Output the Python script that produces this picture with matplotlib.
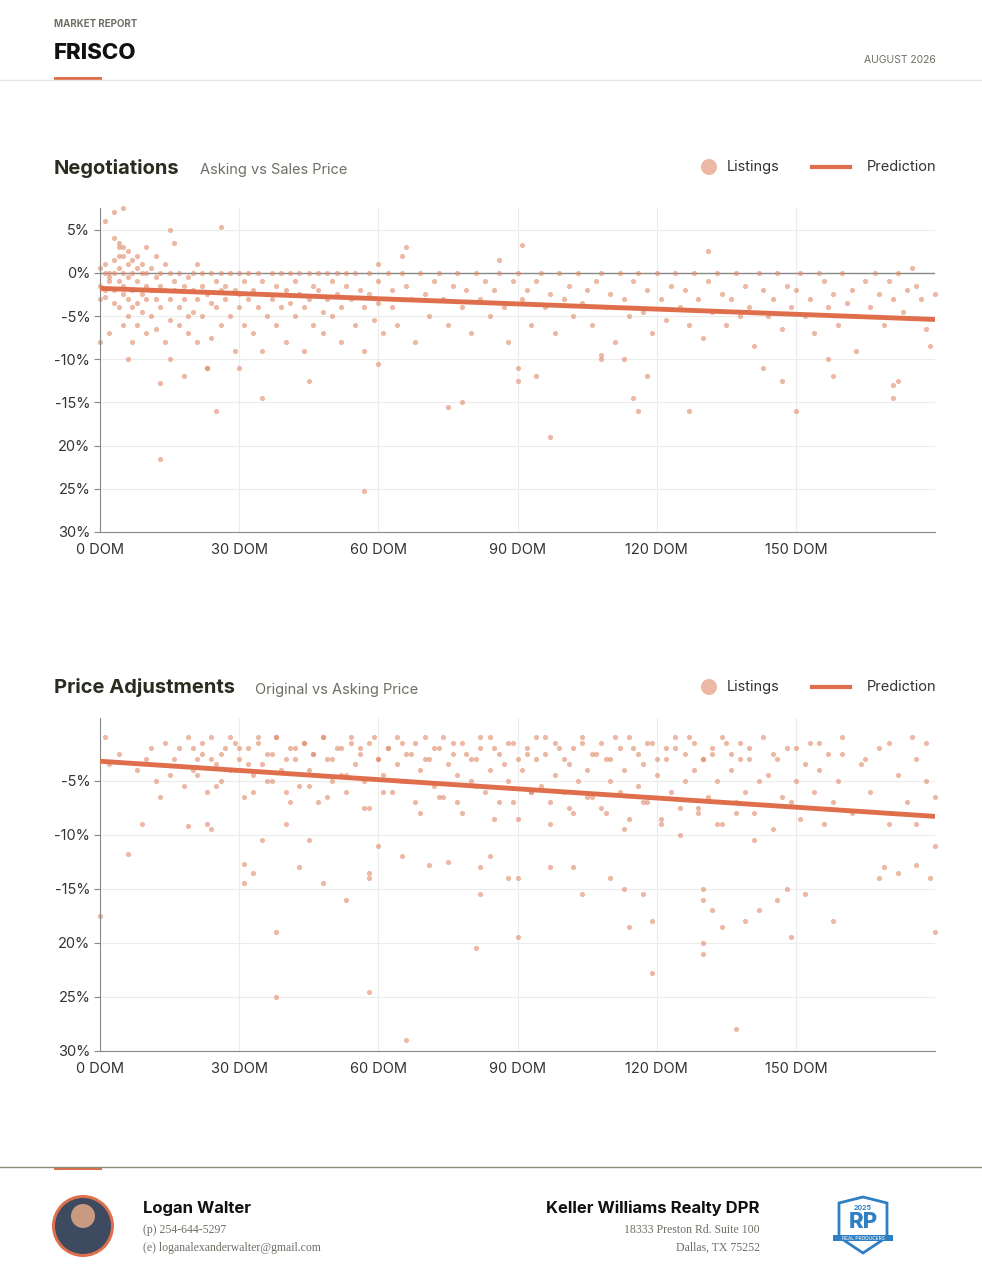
import matplotlib
matplotlib.use("Agg")
import matplotlib.pyplot as plt
from matplotlib.patches import Ellipse, Polygon, Rectangle
from matplotlib.lines import Line2D

# ---------------- data (DOM, % difference) ----------------
neg_points = [
 (0,0.5),(0,-1.5),(0,-3),(0,-8),(1,-2),(1,0),(1,1),(1,-2.8),(2,-1),(2,-0.5),(2,0),(2,-7),(3,4),(3,1.5),(3,-2),(3,-3.5),(3,0),
 (4,2),(4,3.5),(4,-1),(4,-4),(4,0.5),(5,3),(5,2),(5,-2.5),(5,-1.5),(5,0),(5,-6),(6,2.5),(6,1),(6,-0.5),(6,-3),(6,-5),(6,-10),
 (7,1.5),(7,0),(7,-2),(7,-4),(7,-8),(8,2),(8,-1),(8,-3.5),(8,0.5),(8,-6),(9,1),(9,-2.5),(9,0),(9,-4.5),(10,3),(10,0),(10,-1.5),
 (10,-3),(10,-7),(11,0.5),(11,-2),(11,-5),(12,2),(12,-0.5),(12,-3),(12,-6.5),(13,0),(13,-1.5),(13,-4),(13,-12.8),(14,1),(14,-2),
 (14,-8),(15,0),(15,-3),(15,-5.5),(15,-10),(16,-1),(16,-2),(16,3.5),(17,0),(17,-4),(17,-6),(18,-1.5),(18,-3),(18,-12),(19,-0.5),
 (19,-5),(19,-7),(20,0),(20,-2),(20,-4.5),(21,1),(21,-3),(21,-8),(22,0),(22,-1.5),(22,-5),(23,-2.5),(23,-11),(24,0),(24,-3.5),
 (24,-7.5),(25,-1),(25,-4),(26,0),(26,-2),(26,-6),(27,-1.5),(27,-3),(28,0),(28,-5),(29,-2),(29,-9),(30,0),(30,-2.5),(30,-4),
 (31,-1),(31,-6),(32,0),(32,-3),(33,-2),(33,-7),(34,0),(34,-4),(35,-1),(35,-9),(36,-2.5),(36,-5),(37,0),(37,-3),(38,-1.5),
 (38,-6),(39,0),(39,-4),(40,-2),(40,-8),(41,0),(41,-3.5),(42,-1),(42,-5),(43,0),(43,-2.5),(44,-4),(44,-9),(45,0),(45,-3),
 (46,-1.5),(46,-6),(47,0),(47,-2),(48,-4.5),(48,-7),(49,0),(49,-3),(50,-1),(50,-5),(51,0),(51,-2.5),(52,-4),(52,-8),(53,0),
 (53,-1.5),(54,-3),(55,-6),(55,0),(56,-2),(57,-4),(57,-9),(58,0),(58,-2.5),(59,-5.5),(60,1),(60,-1),(60,-3.5),(61,-7),(62,0),
 (63,-2),(63,-4),(64,-6),(65,0),(66,-1.5),(67,-3),(68,-8),(69,0),(70,-2.5),(71,-5),(72,-1),(73,0),(74,-3),(75,-6),(76,-1.5),
 (77,0),(78,-4),(79,-2),(80,-7),(81,0),(82,-3),(83,-1),(84,-5),(85,-2),(86,0),(87,-4),(88,-8),(89,-1),(90,0),(91,-3),(92,-2),
 (93,-6),(94,-1),(95,0),(96,-4),(97,-2.5),(98,-7),(99,0),(100,-3),(101,-1.5),(102,-5),(103,0),(104,-3.5),(105,-2),(106,-6),
 (107,-1),(108,0),(109,-4),(110,-2.5),(111,-8),(112,0),(113,-3),(114,-5),(115,-1),(116,0),(117,-4.5),(118,-2),(119,-7),(120,0),
 (121,-3),(122,-5.5),(123,-1.5),(124,0),(125,-4),(126,-2),(127,-6),(128,0),(129,-3),(130,-7.5),(131,-1),(132,-4.5),(133,0),
 (134,-2.5),(135,-6),(136,-3),(137,0),(138,-5),(139,-1.5),(140,-4),(141,-8.5),(142,0),(143,-2),(144,-5),(145,-3),(146,0),
 (147,-6.5),(148,-1.5),(149,-4),(150,-2),(151,0),(152,-5),(153,-3),(154,-7),(155,0),(156,-1),(157,-4),(158,-2.5),(159,-6),
 (160,0),(161,-3.5),(162,-2),(163,-5),(165,-1),(166,-4),(167,0),(168,-2.5),(169,-6),(170,-1),(171,-3),(172,0),(173,-4.5),
 (174,-2),(175,0.5),(176,-1.5),(177,-3),(178,-6.5),(179,-8.5),(180,-2.5),
 (1,6),(3,7),(5,7.5),(4,3),(15,5),(26,5.3),(13,-21.5),(25,-16),(57,-25.2),(60,-10.5),(97,-19),(75,-15.5),(78,-15),(90,-11),
 (90,-12.5),(94,-12),(115,-14.5),(116,-16),(127,-16),(150,-16),(171,-13),(171,-14.5),(172,-12.5),(147,-12.5),(143,-11),
 (163,-9),(157,-10),(158,-12),(108,-10),(108,-9.5),(113,-10),(118,-12),(30,-11),(23,-11),(35,-14.5),(45,-12.5),(65,2),
 (66,3),(91,3.2),(86,1.5),(131,2.5),
]
neg_trend_dom = [0, 180]
neg_trend_pct = [-1.8, -5.4]

adj_points = [
 (1,-1),(2,-3.5),(4,-2.5),(8,-4),(10,-3),(11,-2),(12,-5),(14,-1.5),(15,-4.5),(16,-3),(17,-2),(18,-5.5),(19,-1),(20,-4),
 (21,-3),(22,-2.5),(23,-6),(24,-1),(25,-3.5),(26,-5),(27,-2),(28,-4),(29,-1.5),(30,-3),(31,-6.5),(32,-2),(33,-4.5),(34,-1),
 (35,-3.5),(36,-5),(37,-2.5),(38,-1),(39,-4),(40,-6),(41,-2),(42,-3),(43,-5.5),(44,-1.5),(45,-4),(46,-2.5),(47,-7),(48,-1),
 (49,-3),(50,-5),(51,-2),(52,-4.5),(53,-6),(54,-1.5),(55,-3.5),(56,-2),(57,-5),(58,-7.5),(59,-1),(60,-3),(61,-4.5),(62,-2),
 (63,-6),(64,-3.5),(65,-1.5),(66,-5),(67,-2.5),(68,-7),(69,-4),(70,-1),(71,-3),(72,-5.5),(73,-2),(74,-6.5),(75,-3.5),
 (76,-1.5),(77,-4.5),(78,-8),(79,-2.5),(80,-5),(81,-3),(82,-1),(83,-6),(84,-4),(85,-2),(86,-7),(87,-3.5),(88,-5),(89,-1.5),
 (90,-8.5),(91,-4),(92,-2.5),(93,-6),(94,-3),(95,-5.5),(96,-1),(97,-7),(98,-4.5),(99,-2),(100,-6),(101,-3.5),(102,-8),
 (103,-5),(104,-1.5),(105,-4),(106,-6.5),(107,-2.5),(108,-7.5),(109,-3),(110,-5),(111,-1),(112,-6),(113,-4),(114,-8.5),
 (115,-2),(116,-5.5),(117,-3.5),(118,-7),(119,-1.5),(120,-4.5),(121,-9),(122,-3),(123,-6),(124,-2),(125,-7.5),(126,-5),
 (127,-1),(128,-4),(129,-8),(130,-3),(131,-6.5),(132,-2.5),(133,-5),(134,-9),(135,-1.5),(136,-4),(137,-7),(138,-3),
 (139,-6),(140,-2),(141,-8),(142,-5),(143,-1),(144,-4.5),(145,-9.5),(146,-3),(147,-6.5),(148,-2),(149,-7),(150,-5),
 (151,-8.5),(152,-3.5),(153,-1.5),(154,-6),(155,-4),(156,-9),(157,-2.5),(158,-7),(159,-5),(160,-1),(162,-8),(164,-3.5),
 (166,-6),(168,-2),(170,-9),(172,-4.5),(174,-7),(176,-3),(178,-1.5),(180,-6.5),
 (20,-2),(22,-1.5),(24,-3),(26,-2.5),(28,-1),(30,-2),(32,-3.5),(34,-1.5),(36,-2.5),(38,-1),(40,-3),(42,-2),(44,-1.5),
 (46,-2.5),(48,-1),(50,-3),(52,-2),(54,-1),(56,-2.5),(58,-1.5),(60,-3),(62,-2),(64,-1),(66,-2.5),(68,-1.5),(70,-3),(72,-2),
 (74,-1),(76,-2.5),(78,-1.5),(80,-3),(82,-2),(84,-1),(86,-2.5),(88,-1.5),(90,-3),(92,-2),(94,-1),(96,-2.5),(98,-1.5),
 (100,-3),(102,-2),(104,-1),(106,-2.5),(108,-1.5),(110,-3),(112,-2),(114,-1),(116,-2.5),(118,-1.5),(120,-3),(122,-2),
 (124,-1),(126,-2.5),(128,-1.5),(130,-3),(132,-2),(134,-1),(136,-2.5),(138,-1.5),(140,-3),(145,-2.5),(150,-2),(155,-1.5),
 (160,-2.5),(165,-3),(170,-1.5),(175,-1),
 (21,-4.5),(25,-5.5),(29,-4),(33,-6),(37,-5),(41,-7),(45,-5.5),(49,-6.5),(53,-4.5),(57,-7.5),(61,-6),(65,-5),(69,-8),
 (73,-6.5),(77,-7),(81,-5.5),(85,-8.5),(89,-7),(93,-6),(97,-9),(101,-7.5),(105,-6.5),(109,-8),(113,-9.5),(117,-7),
 (121,-8.5),(125,-10),(129,-7.5),(133,-9),(137,-8),(141,-10.5),
 (0,-17.5),(6,-11.8),(9,-9),(13,-6.5),(19,-9.2),(23,-9),(24,-9.5),(31,-12.7),(31,-14.5),(33,-13.5),(35,-10.5),(38,-25),
 (38,-19),(40,-9),(43,-13),(45,-10.5),(48,-14.5),(53,-16),(58,-13.5),(58,-14),(58,-24.5),(60,-11),(66,-29),(65,-12),
 (71,-12.8),(75,-12.5),(81,-20.5),(82,-13),(82,-15.5),(84,-12),(88,-14),(90,-19.5),(90,-14),(97,-13),(102,-13),(104,-15.5),
 (110,-14),(113,-15),(114,-18.5),(117,-15.5),(119,-18),(119,-22.8),(130,-15),(130,-16),(130,-20),(130,-21),(132,-17),
 (134,-18.5),(137,-28),(139,-18),(142,-17),(146,-16),(148,-15),(149,-19.5),(152,-15.5),(158,-18),(168,-14),(169,-13),
 (172,-13.5),(176,-12.8),(179,-14),(180,-11),(180,-19),(176,-9),(178,-5),
]
adj_trend_dom = [0, 180]
adj_trend_pct = [-3.2, -8.3]

dom_ticks = [0, 30, 60, 90, 120, 150]
dom_labels = ["0 DOM", "30 DOM", "60 DOM", "90 DOM", "120 DOM", "150 DOM"]
neg_yticks = [5, 0, -5, -10, -15, -20, -25, -30]
neg_ylabels = ["5%", "0%", "-5%", "-10%", "-15%", "20%", "25%", "30%"]
adj_yticks = [-5, -10, -15, -20, -25, -30]
adj_ylabels = ["-5%", "-10%", "-15%", "20%", "25%", "30%"]

# ---------------- style ----------------
DOT = "#e08a68"
LINE = "#df6f4c"
DARK = "#2b2b1f"
GRAY = "#6f6f66"
SANS = ["Inter", "DejaVu Sans"]
SERIF = ["Liberation Serif", "DejaVu Serif"]
W, H = 982, 1284

fig = plt.figure(figsize=(9.82, 12.84), dpi=100)

def fx(px): return px / W
def fy(py): return 1 - py / H

def circ(cxp, cyp, r, **kw):
    fig.add_artist(Ellipse((fx(cxp), fy(cyp)), 2 * r / W, 2 * r / H, **kw))

# header
fig.text(fx(54), fy(24), "MARKET REPORT", fontsize=7, color=GRAY, family=SANS, va="center", fontweight="bold")
fig.text(fx(54), fy(53), "FRISCO", fontsize=16, color="#111111", family=SANS, va="center", fontweight="heavy")
fig.text(fx(936), fy(60), "AUGUST 2026", fontsize=7.5, color=GRAY, family=SANS, va="center", ha="right")
fig.add_artist(Line2D([0, 1], [fy(80), fy(80)], color="#e6e6e6", lw=1))
fig.add_artist(Rectangle((fx(54), fy(80)), fx(48), 3 / H, color=LINE, lw=0))

def panel(top, bottom, ylo, yhi, pts, tx, ty, yt, yl, title, sub, title_y, zero_line):
    xs = [p[0] for p in pts]
    ys = [p[1] for p in pts]
    ax = fig.add_axes([fx(100), fy(bottom), fx(935) - fx(100), fy(top) - fy(bottom)])
    ax.set_xlim(0, 180)
    ax.set_ylim(ylo, yhi)
    for v in dom_ticks[1:]:
        ax.axvline(v, color="#ececec", lw=0.8, zorder=0)
    for v in yt:
        ax.axhline(v, color="#ececec", lw=0.8, zorder=0)
    if zero_line:
        ax.axhline(0, color="#8a8a8a", lw=1, zorder=1)
    ax.scatter(xs, ys, s=14, color=DOT, alpha=0.6, lw=0, zorder=2, clip_on=False)
    ax.plot(tx, ty, color=LINE, lw=3.5, solid_capstyle="butt", zorder=3)
    ax.set_xticks(dom_ticks)
    ax.set_xticklabels(dom_labels, fontsize=10.5, color="#333333", family=SANS)
    ax.set_yticks(yt)
    ax.set_yticklabels(yl, fontsize=10.5, color="#333333", family=SANS)
    ax.tick_params(axis="x", length=0, pad=8)
    ax.tick_params(axis="y", length=4, color="#888888", pad=3)
    for s in ["top", "right"]:
        ax.spines[s].set_visible(False)
    ax.spines["left"].set_color("#888888")
    ax.spines["bottom"].set_color("#888888")
    t = fig.text(fx(54), fy(title_y), title, fontsize=14.5, color=DARK, family=SANS, fontweight="bold", va="center")
    fig.canvas.draw()
    bb = t.get_window_extent()
    fig.text(bb.x1 / W + fx(20), fy(title_y + 2), sub, fontsize=10.5, color=GRAY, family=SANS, va="center")
    circ(709, title_y - 1, 8, color=DOT, alpha=0.6, lw=0)
    fig.text(fx(727), fy(title_y - 1), "Listings", fontsize=10.5, color="#333333", family=SANS, va="center")
    fig.add_artist(Line2D([fx(812), fx(850)], [fy(title_y - 1)] * 2, color=LINE, lw=3))
    fig.text(fx(936), fy(title_y - 1), "Prediction", fontsize=10.5, color="#333333", family=SANS, va="center", ha="right")
    return ax

panel(208, 532, -30, 7.5, neg_points, neg_trend_dom, neg_trend_pct, neg_yticks, neg_ylabels,
      "Negotiations", "Asking vs Sales Price", 168, True)
panel(718, 1051, -30, 0.8, adj_points, adj_trend_dom, adj_trend_pct, adj_yticks, adj_ylabels,
      "Price Adjustments", "Original vs Asking Price", 688, False)

# footer
fig.add_artist(Line2D([0, 1], [fy(1167), fy(1167)], color="#8a8a7a", lw=1))
fig.add_artist(Rectangle((fx(54), fy(1170)), fx(48), 3 / H, color=LINE, lw=0))
circ(83, 1226, 31, color=LINE, lw=0)
circ(83, 1226, 28, color="#3d4a60", lw=0)
circ(83, 1216, 12, color="#c99a80", lw=0)
fig.text(fx(143), fy(1208), "Logan Walter", fontsize=12, color="#111111", family=SANS, fontweight="bold", va="center")
fig.text(fx(143), fy(1230), "(p) 254-644-5297", fontsize=8.5, color=GRAY, family=SERIF, va="center")
fig.text(fx(143), fy(1248), "(e) loganalexanderwalter@gmail.com", fontsize=8.5, color=GRAY, family=SERIF, va="center")
fig.text(fx(760), fy(1208), "Keller Williams Realty DPR", fontsize=12, color="#111111", family=SANS, fontweight="bold", va="center", ha="right")
fig.text(fx(760), fy(1230), "18333 Preston Rd. Suite 100", fontsize=8.5, color=GRAY, family=SERIF, va="center", ha="right")
fig.text(fx(760), fy(1248), "Dallas, TX 75252", fontsize=8.5, color=GRAY, family=SERIF, va="center", ha="right")
cx, cy = 863, 1225
badge = [(cx - 24, cy - 22), (cx, cy - 28), (cx + 24, cy - 22), (cx + 24, cy + 12), (cx, cy + 28), (cx - 24, cy + 12)]
fig.add_artist(Polygon([(fx(a), fy(b)) for a, b in badge], closed=True, facecolor="white", edgecolor="#2f7fc4", lw=2))
fig.text(fx(cx), fy(cy - 17), "2025", fontsize=5, color="#2f7fc4", family=SANS, ha="center", va="center", fontweight="bold")
fig.text(fx(cx), fy(cy - 3), "RP", fontsize=16, color="#2f7fc4", family=SANS, ha="center", va="center", fontweight="heavy")
fig.add_artist(Rectangle((fx(cx - 30), fy(cy + 16)), fx(60), 6 / H, color="#2f7fc4", lw=0))
fig.text(fx(cx), fy(cy + 13), "REAL PRODUCERS", fontsize=3.5, color="white", family=SANS, ha="center", va="center")

fig.savefig("out.png", dpi=100)
